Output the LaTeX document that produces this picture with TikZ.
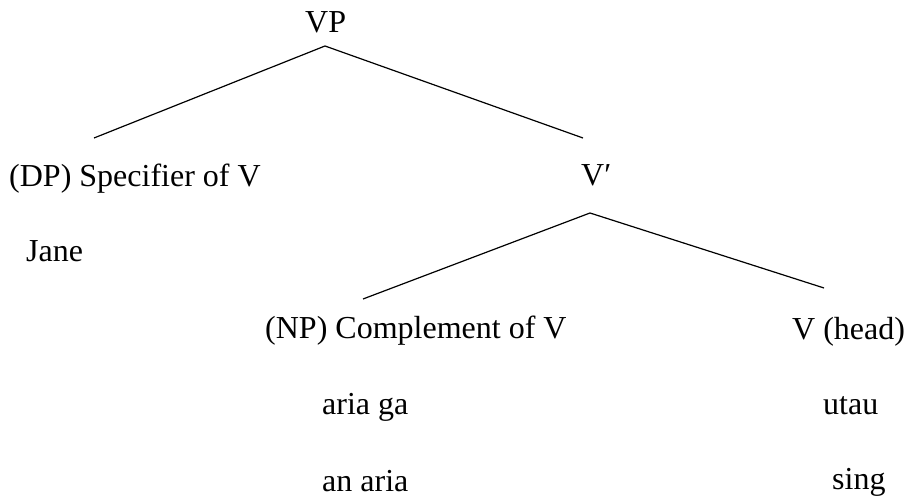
\documentclass[tikz,border=0pt]{standalone}
\usepackage{fontspec}
\setmainfont{Liberation Serif}
\begin{document}
\begin{tikzpicture}[x=1pt,y=1pt,
  lbl/.style={anchor=base west,inner sep=0pt,font=\fontsize{32}{36}\selectfont},
  branch/.style={line width=1.2pt}]
\useasboundingbox (0,0) rectangle (905,500);
% text nodes (y = 500 - image y)
\node[lbl] (vp) at (305,467) {VP};
\node[lbl] (spec) at (9,313) {(DP) Specifier of V};
\node[lbl] (jane) at (26,238) {Jane};
\node[lbl] (vbar) at (581,314) {V′};
\node[lbl] (comp) at (265,161) {(NP) Complement of V};
\node[lbl] (head) at (792,160) {V (head)};
\node[lbl] (ariaga) at (322,85) {aria ga};
\node[lbl] (anaria) at (322,8) {an aria};
\node[lbl] (utau) at (823,85) {utau};
\node[lbl] (sing) at (832,10) {sing};
% branch points
\coordinate (vptop) at (325,454);
\coordinate (specend) at (94,362);
\coordinate (vbarend) at (583,362);
\coordinate (vbartop) at (590,287);
\coordinate (compend) at (363,201);
\coordinate (headend) at (824,212);
\draw[branch] (vptop) -- (specend);
\draw[branch] (vptop) -- (vbarend);
\draw[branch] (vbartop) -- (compend);
\draw[branch] (vbartop) -- (headend);
\end{tikzpicture}
\end{document}
